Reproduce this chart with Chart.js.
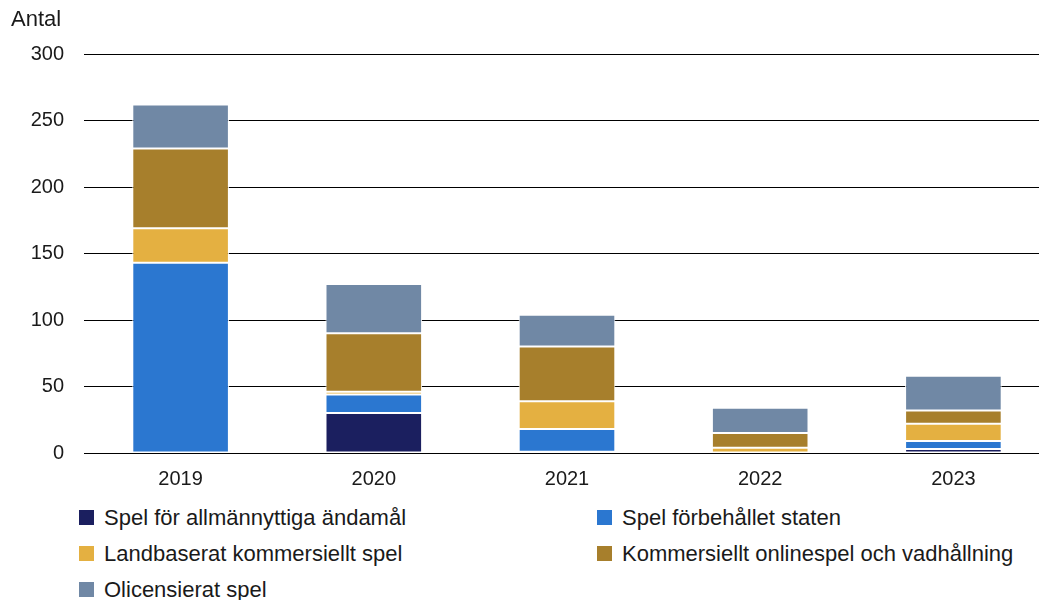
<!DOCTYPE html>
<html>
<head>
<meta charset="utf-8">
<script src="https://cdn.jsdelivr.net/npm/chart.js@4.4.1/dist/chart.umd.min.js"></script>
<style>
  html, body { margin: 0; padding: 0; background: #fff; overflow: hidden; }
  body { width: 1039px; height: 600px; position: relative; font-family: 'Liberation Sans', Arial, sans-serif; color: #1a1a1a; }
  #wrap { position: absolute; left: 0; top: 0; width: 1050px; height: 497px; }
  #unit { position: absolute; left: 11px; top: 6px; font-size: 22px; }
  #legend { position: absolute; left: 79px; top: 505px; width: 960px; display: grid; grid-template-columns: 518px 440px; row-gap: 11px; font-size: 22px; }
  .item { display: flex; align-items: center; height: 25px; white-space: nowrap; }
  .box { width: 15px; height: 15px; margin-right: 10px; }
</style>
</head>
<body>
<div id="wrap"><canvas id="chart"></canvas></div>
<div id="unit">Antal</div>
<div id="legend"></div>
<script>
const years = ['2019', '2020', '2021', '2022', '2023'];
const seriesNames = [
  'Spel för allmännyttiga ändamål',
  'Spel förbehållet staten',
  'Landbaserat kommersiellt spel',
  'Kommersiellt onlinespel och vadhållning',
  'Olicensierat spel'
];
const allmannyttiga = [0, 30, 1, 0, 3];
const statligt = [143, 14, 17, 0, 6];
const landbaserat = [26, 2, 21, 4, 13];
const online = [60, 44, 41, 11, 10];
const olicensierat = [33, 37, 24, 19, 26];
const yTicks = [0, 50, 100, 150, 200, 250, 300];
const colors = ['#1b1f5f', '#2b77d0', '#e4b041', '#a77f2c', '#7088a5'];

const values = [allmannyttiga, statligt, landbaserat, online, olicensierat];

new Chart(document.getElementById('chart'), {
  type: 'bar',
  data: {
    labels: years,
    datasets: values.map((v, i) => ({
      label: seriesNames[i],
      data: v,
      backgroundColor: colors[i],
      borderColor: '#ffffff',
      borderWidth: 1,
      borderSkipped: false,
      barPercentage: 0.5,
      categoryPercentage: 1
    }))
  },
  options: {
    responsive: true,
    maintainAspectRatio: false,
    animation: false,
    layout: { padding: { top: 54, right: 0, left: 0, bottom: 0 } },
    plugins: {
      legend: { display: false },
      tooltip: { enabled: false }
    },
    scales: {
      x: {
        stacked: true,
        grid: { display: false },
        border: { display: false },
        ticks: {
          color: '#1a1a1a',
          padding: 6,
          font: { family: 'Liberation Sans', size: 20 }
        }
      },
      y: {
        stacked: true,
        min: yTicks[0],
        max: yTicks[yTicks.length - 1],
        afterBuildTicks: function (axis) {
          axis.ticks = yTicks.map(v => ({ value: v }));
        },
        afterFit: function (axis) {
          axis.width = 84;
        },
        grid: { color: '#000000', lineWidth: 1, drawTicks: false },
        border: { display: false },
        ticks: {
          color: '#1a1a1a',
          padding: 20,
          font: { family: 'Liberation Sans', size: 20 }
        }
      }
    }
  }
});

const legend = document.getElementById('legend');
seriesNames.forEach((name, i) => {
  const item = document.createElement('div');
  item.className = 'item';
  item.innerHTML = '<span class="box" style="background:' + colors[i] + '"></span>' + name;
  legend.appendChild(item);
});
</script>
</body>
</html>
